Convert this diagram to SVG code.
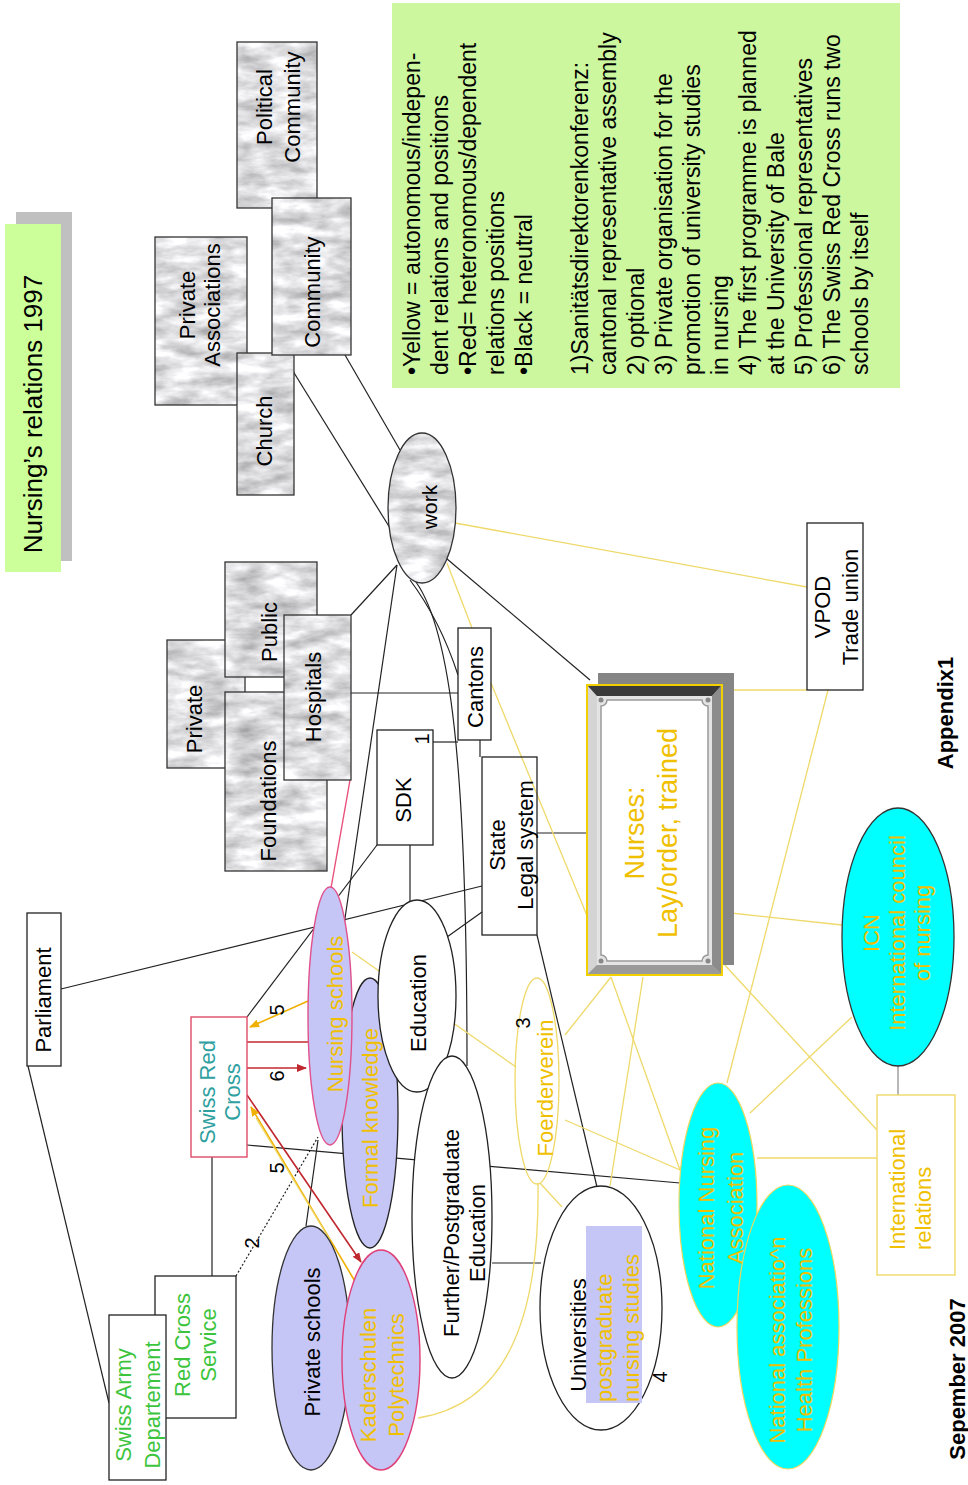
<svg xmlns="http://www.w3.org/2000/svg" width="968" height="1485" viewBox="0 0 968 1485">
<defs>
<filter id="marble" x="0" y="0" width="1" height="1" color-interpolation-filters="sRGB">
<feTurbulence type="fractalNoise" baseFrequency="0.03 0.08" numOctaves="4" seed="4" result="n"/>
<feColorMatrix in="n" type="matrix" values="0.55 0 0 0 0.6  0.55 0 0 0 0.6  0.55 0 0 0 0.61  0 0 0 0 1" result="c"/>
<feComposite in="c" in2="SourceGraphic" operator="in"/>
</filter>
<marker id="ar" markerWidth="10" markerHeight="8" refX="9" refY="4" orient="auto" markerUnits="userSpaceOnUse"><path d="M0,0 L10,4 L0,8 z" fill="#c0282f"/></marker>
<marker id="ay" markerWidth="10" markerHeight="8" refX="9" refY="4" orient="auto" markerUnits="userSpaceOnUse"><path d="M0,0 L10,4 L0,8 z" fill="#f0b000"/></marker>
</defs>
<style>
text { font-family: "Liberation Sans", Arial, sans-serif; font-size: 22px; fill: #000; }
.y { fill: #f0c000; }
.g { fill: #3cc43c; }
.tl { fill: #2f9f9f; }
.b { font-weight: bold; }
.n { font-size: 20px; }
.box { fill: #fff; stroke: #222; stroke-width: 1.3; }
.mb { fill: #ddd; filter: url(#marble); }
.mbs { fill: none; stroke: #333; stroke-width: 1.3; }
.lav { fill: #c6c6f6; }
.cy { fill: #00ffff; }
.k { stroke: #222; stroke-width: 1.2; fill: none; }
.yl { stroke: #efd96a; stroke-width: 1.3; fill: none; }
.rd { stroke: #c0282f; stroke-width: 1.6; fill: none; }
.ya { stroke: #f0b000; stroke-width: 1.6; fill: none; }
</style>
<rect width="968" height="1485" fill="#fff"/>

<g id="connectors">
<path class="k" d="M283 355 L390 528"/>
<path class="k" d="M345 355 L400 450"/>
<path class="k" d="M397 565 L351 615"/>
<path class="k" d="M397 565 L344 925"/>
<path class="k" d="M410 580 Q440 620 458 675"/>
<path class="k" d="M416 582 C450 630 467 760 467 1066"/>
<path class="k" d="M440 553 L590 680"/>
<path class="k" d="M351 693 L458 693"/>
<path class="k" d="M433 742 L458 742"/>
<path class="k" d="M480 740 L480 757"/>
<path class="k" d="M410 845 L410 902"/>
<path class="k" d="M377 845 L247 1017"/>
<path class="k" d="M61 989 L482 886"/>
<path class="k" d="M28 1066 L109 1403"/>
<path class="k" d="M482 912 L447 937"/>
<path class="k" d="M537 833 L588 833"/>
<path class="k" d="M537 935 L597 1187"/>
<path class="k" d="M212 1157 L212 1276"/>
<path class="k" d="M247 1145 L680 1183"/>
<path class="k" d="M236 1276 L318 1137" stroke-dasharray="2 2"/>
<path class="k" d="M318 1140 L306 1226"/>
<path class="k" d="M492 1263 L541 1263"/>
<path d="M898 1066 L898 1095" stroke="#888" stroke-width="1.2"/>
<path class="yl" d="M455 523 L807 587"/>
<path class="yl" d="M447 563 L472 628"/>
<path class="yl" d="M491 683 L588 918"/>
<path class="yl" d="M722 690 L807 690"/>
<path class="yl" d="M828 690 L727 1083"/>
<path class="yl" d="M722 912 L842 925"/>
<path class="yl" d="M722 962 L877 1130"/>
<path class="yl" d="M852 1017 L750 1113"/>
<path class="yl" d="M757 1158 L877 1158"/>
<path class="yl" d="M352 952 L516 1067"/>
<path class="yl" d="M565 1035 L611 977"/>
<path class="yl" d="M611 977 L680 1170"/>
<path class="yl" d="M643 977 L610 1186"/>
<path class="yl" d="M565 1120 L680 1170"/>
<path class="yl" d="M540 1183 L562 1207"/>
<path class="yl" d="M538 1183 C540 1330 500 1405 418 1418"/>
<path d="M350 780 L331 888" stroke="#e8507a" stroke-width="1.4" fill="none"/>
<path class="rd" d="M247 1042 L309 1042"/>
<path class="rd" d="M247 1068 L306 1068" marker-end="url(#ar)"/>
<path class="rd" d="M247 1095 L361 1262" marker-end="url(#ar)"/>
<path class="ya" d="M308 1001 L250 1027" marker-end="url(#ay)"/>
<path class="ya" d="M356 1283 L251 1107" marker-end="url(#ay)"/>
<path class="yl" d="M330 1240 L256 1118"/>
</g>

<g id="title">
<rect x="16" y="212" width="56" height="349" fill="#c0c0c0"/>
<rect x="5" y="224" width="56" height="348" fill="#ccff99"/>
<text transform="translate(33 414) rotate(-90)" text-anchor="middle" y="9" style="font-size:26px">Nursing’s relations 1997</text>
</g>

<g id="legend">
<rect x="392" y="3" width="508" height="385" fill="#ccf79f"/>
<text transform="translate(412 375) rotate(-90)" style="font-size:23px">
<tspan x="0" y="8">•Yellow = autonomous/indepen-</tspan>
<tspan x="0" y="36">dent relations and positions</tspan>
<tspan x="0" y="64">•Red= heteronomous/dependent</tspan>
<tspan x="0" y="92">relations positions</tspan>
<tspan x="0" y="120">•Black = neutral</tspan>
<tspan x="0" y="176">1)Sanitätsdirektorenkonferenz:</tspan>
<tspan x="0" y="204">cantonal representative assembly</tspan>
<tspan x="0" y="232">2) optional</tspan>
<tspan x="0" y="260">3) Private organisation for the</tspan>
<tspan x="0" y="288">promotion of university studies</tspan>
<tspan x="0" y="316">in nursing</tspan>
<tspan x="0" y="344">4) The first programme is planned</tspan>
<tspan x="0" y="372">at the University of Bale</tspan>
<tspan x="0" y="400">5) Professional representatives</tspan>
<tspan x="0" y="428">6) The Swiss Red Cross runs two</tspan>
<tspan x="0" y="456">schools by itself</tspan>
</text>
</g>

<g id="private-associations">
<rect class="mb" x="155" y="237" width="92" height="168"/><rect class="mbs" x="155" y="237" width="92" height="168"/>
<text transform="translate(200 305) rotate(-90)" text-anchor="middle"><tspan x="0" y="-4.8">Private</tspan><tspan x="0" y="20.2">Associations</tspan></text>
</g>
<g id="church">
<rect class="mb" x="237" y="353" width="57" height="142"/><rect class="mbs" x="237" y="353" width="57" height="142"/>
<text transform="translate(264 431) rotate(-90)" text-anchor="middle" y="7.7">Church</text>
</g>
<g id="political-community">
<rect class="mb" x="237" y="42" width="80" height="166"/><rect class="mbs" x="237" y="42" width="80" height="166"/>
<text transform="translate(278 107) rotate(-90)" text-anchor="middle"><tspan x="0" y="-6.3">Political</tspan><tspan x="0" y="21.7">Community</tspan></text>
</g>
<g id="community">
<rect class="mb" x="272" y="198" width="79" height="157"/><rect class="mbs" x="272" y="198" width="79" height="157"/>
<text transform="translate(312 292) rotate(-90)" text-anchor="middle" y="7.7">Community</text>
</g>
<g id="private">
<rect class="mb" x="167" y="640" width="78" height="128"/><rect class="mbs" x="167" y="640" width="78" height="128"/>
<text transform="translate(194 719) rotate(-90)" text-anchor="middle" y="7.7">Private</text>
</g>
<g id="public">
<rect class="mb" x="225" y="562" width="92" height="115"/><rect class="mbs" x="225" y="562" width="92" height="115"/>
<text transform="translate(269 632) rotate(-90)" text-anchor="middle" y="7.7">Public</text>
</g>
<g id="foundations">
<rect class="mb" x="225" y="692" width="102" height="179"/><rect class="mbs" x="225" y="692" width="102" height="179"/>
<text transform="translate(268 801) rotate(-90)" text-anchor="middle" y="7.7">Foundations</text>
</g>
<g id="hospitals">
<rect class="mb" x="284" y="615" width="67" height="165"/><rect class="mbs" x="284" y="615" width="67" height="165"/>
<text transform="translate(313 697) rotate(-90)" text-anchor="middle" y="7.7">Hospitals</text>
</g>
<g id="work">
<ellipse class="mb" cx="422" cy="508" rx="34" ry="75"/><ellipse class="mbs" cx="422" cy="508" rx="34" ry="75"/>
<text transform="translate(430 507) rotate(-90)" text-anchor="middle" y="7.3" style="font-size:21px">work</text>
</g>
<g id="cantons">
<rect class="box" x="458" y="628" width="33" height="112"/>
<text transform="translate(475 687) rotate(-90)" text-anchor="middle" y="7.7">Cantons</text>
</g>
<g id="sdk">
<rect class="box" x="377" y="730" width="56" height="115"/>
<text transform="translate(403 800) rotate(-90)" text-anchor="middle" y="7.7">SDK</text>
<text class="n" transform="translate(422 739) rotate(-90)" text-anchor="middle" y="7">1</text>
</g>
<g id="state">
<rect x="482" y="757" width="55" height="178" fill="none" stroke="#222" stroke-width="1.3"/>
<text transform="translate(511 845) rotate(-90)" text-anchor="middle"><tspan x="0" y="-6.3">State</tspan><tspan x="0" y="21.7">Legal system</tspan></text>
</g>
<g id="nurses">
<rect x="598" y="673" width="136" height="292" fill="#858585"/>
<rect x="587" y="685" width="135" height="290" fill="#b0b0b0"/>
<polygon points="588,686 597,696 597,965 588,974" fill="#d4d4d4"/>
<polygon points="588,686 721,686 712,696 597,696" fill="#3a3a3a"/>
<polygon points="721,686 721,974 712,965 712,696" fill="#8c8c8c"/>
<polygon points="588,974 721,974 712,965 597,965" fill="#9a9a9a"/>
<rect x="597" y="696" width="115" height="269" fill="#e4e4e4"/>
<path d="M607 700 L702 700 A6 6 0 0 0 708 706 L708 955 A6 6 0 0 0 702 961 L607 961 A6 6 0 0 0 601 955 L601 706 A6 6 0 0 0 607 700 Z" fill="#fff" stroke="#9a9a9a" stroke-width="1.5"/>
<circle cx="601" cy="700" r="2.5" fill="#888"/><circle cx="708" cy="700" r="2.5" fill="#888"/>
<circle cx="601" cy="961" r="2.5" fill="#888"/><circle cx="708" cy="961" r="2.5" fill="#888"/>
<rect x="587" y="685" width="135" height="290" fill="none" stroke="#f2d000" stroke-width="2"/>
<text class="y" transform="translate(651 833) rotate(-90)" text-anchor="middle" style="font-size:27px"><tspan x="0" y="-7">Nurses:</tspan><tspan x="0" y="26">Lay/order, trained</tspan></text>
</g>
<g id="vpod">
<rect class="box" x="807" y="523" width="56" height="167"/>
<text transform="translate(836 607) rotate(-90)" text-anchor="middle"><tspan x="0" y="-6.3">VPOD</tspan><tspan x="0" y="21.7">Trade union</tspan></text>
</g>
<g id="parliament">
<rect class="box" x="27" y="913" width="34" height="153"/>
<text transform="translate(43 1000) rotate(-90)" text-anchor="middle" y="7.7">Parliament</text>
</g>
<g id="swiss-red-cross">
<rect x="191" y="1017" width="56" height="140" fill="#fff" stroke="#e04a6a" stroke-width="1.4"/>
<text class="tl" transform="translate(219.5 1092) rotate(-90)" text-anchor="middle"><tspan x="0" y="-4.8">Swiss Red</tspan><tspan x="0" y="20.2">Cross</tspan></text>
</g>
<g id="red-cross-service">
<rect class="box" x="155" y="1276" width="81" height="142"/>
<text class="g" transform="translate(195 1345) rotate(-90)" text-anchor="middle"><tspan x="0" y="-5.3">Red Cross</tspan><tspan x="0" y="20.7">Service</tspan></text>
</g>
<g id="swiss-army">
<rect class="box" x="109" y="1315" width="57" height="165"/>
<text class="g" transform="translate(138 1405) rotate(-90)" text-anchor="middle"><tspan x="0" y="-6.8">Swiss Army</tspan><tspan x="0" y="22.2">Departement</tspan></text>
</g>
<g id="private-schools">
<ellipse class="lav" cx="311" cy="1348" rx="39" ry="122" stroke="#333" stroke-width="1.3"/>
<text transform="translate(312 1342) rotate(-90)" text-anchor="middle" y="7.7">Private schools</text>
</g>
<g id="kaderschulen">
<ellipse class="lav" cx="381" cy="1360" rx="39" ry="110" stroke="#e0407a" stroke-width="1.4"/>
<text class="y" transform="translate(382 1375) rotate(-90)" text-anchor="middle"><tspan x="0" y="-6.3">Kaderschulen</tspan><tspan x="0" y="21.7">Polytechnics</tspan></text>
</g>
<g id="formal-knowledge">
<ellipse class="lav" cx="370" cy="1113" rx="28" ry="135" stroke="#222" stroke-width="1.3"/>
<text class="y" transform="translate(370 1118) rotate(-90)" text-anchor="middle" y="7.7">Formal knowledge</text>
</g>
<g id="nursing-schools">
<ellipse class="lav" cx="330" cy="1016" rx="22" ry="129" stroke="#e0508a" stroke-width="1.4"/>
<text class="y" transform="translate(335 1014) rotate(-90)" text-anchor="middle" y="7.7">Nursing schools</text>
</g>
<g id="education">
<ellipse cx="417" cy="996" rx="39" ry="96" fill="#fff" stroke="#222" stroke-width="1.3"/>
<text transform="translate(418 1003) rotate(-90)" text-anchor="middle" y="7.7">Education</text>
</g>
<g id="further-education">
<ellipse cx="452" cy="1217" rx="40" ry="161" fill="#fff" stroke="#222" stroke-width="1.3"/>
<text transform="translate(464 1233) rotate(-90)" text-anchor="middle"><tspan x="0" y="-5.3">Further/Postgraduate</tspan><tspan x="0" y="20.7">Education</tspan></text>
</g>
<g id="universities">
<ellipse cx="601" cy="1308" rx="61" ry="122" fill="#fff" stroke="#222" stroke-width="1.3"/>
<rect class="lav" x="586" y="1226" width="56" height="177"/>
<text transform="translate(578 1335) rotate(-90)" text-anchor="middle" y="7.7">Universities</text>
<text class="y" transform="translate(618 1402) rotate(-90)"><tspan x="0" y="-5.8">postgraduate</tspan><tspan x="0" y="21.2">nursing studies</tspan></text>
</g>
<g id="foerderverein">
<ellipse cx="537" cy="1081" rx="22" ry="103" fill="none" stroke="#efd96a" stroke-width="1.3"/>
<text class="y" transform="translate(545 1088) rotate(-90)" text-anchor="middle" y="7.7">Foerderverein</text>
</g>
<g id="national-nursing-association">
<ellipse class="cy" cx="718" cy="1205" rx="39" ry="122" stroke="#e8d860" stroke-width="1.2"/>
<text class="y" transform="translate(721 1208) rotate(-90)" text-anchor="middle"><tspan x="0" y="-6.8">National Nursing</tspan><tspan x="0" y="22.2">Association</tspan></text>
</g>
<g id="health-professions">
<ellipse class="cy" cx="788" cy="1327" rx="51" ry="142" stroke="#e8d860" stroke-width="1.2"/>
<text class="y" transform="translate(791 1340) rotate(-90)" text-anchor="middle"><tspan x="0" y="-5.8">National associatio^n</tspan><tspan x="0" y="21.2">Health Professions</tspan></text>
</g>
<g id="icn">
<ellipse class="cy" cx="898" cy="937" rx="56" ry="129" stroke="#333" stroke-width="1.3"/>
<text class="y" transform="translate(897 933) rotate(-90)" text-anchor="middle"><tspan x="0" y="-17.8">ICN</tspan><tspan x="0" y="7.7">International council</tspan><tspan x="0" y="33.2">of nursing</tspan></text>
</g>
<g id="international-relations">
<rect x="877" y="1095" width="78" height="180" fill="#fff" stroke="#efd96a" stroke-width="1.4"/>
<text class="y" transform="translate(910 1250) rotate(-90)"><tspan x="0" y="-5.3">International</tspan><tspan x="0" y="20.7">relations</tspan></text>
</g>

<g id="labels">
<text class="n" transform="translate(277 1010) rotate(-90)" text-anchor="middle" y="7">5</text>
<text class="n" transform="translate(277 1076) rotate(-90)" text-anchor="middle" y="7">6</text>
<text class="n" transform="translate(277 1168) rotate(-90)" text-anchor="middle" y="7">5</text>
<text class="n" transform="translate(252 1243) rotate(-90)" text-anchor="middle" y="7">2</text>
<text class="n" transform="translate(523 1023) rotate(-90)" text-anchor="middle" y="7">3</text>
<text class="n" transform="translate(660 1377) rotate(-90)" text-anchor="middle" y="7">4</text>
<text class="b" transform="translate(945 713) rotate(-90)" text-anchor="middle" y="7.7">Appendix1</text>
<text class="b" transform="translate(957 1379) rotate(-90)" text-anchor="middle" y="7.7">Sepember 2007</text>
</g>
</svg>
